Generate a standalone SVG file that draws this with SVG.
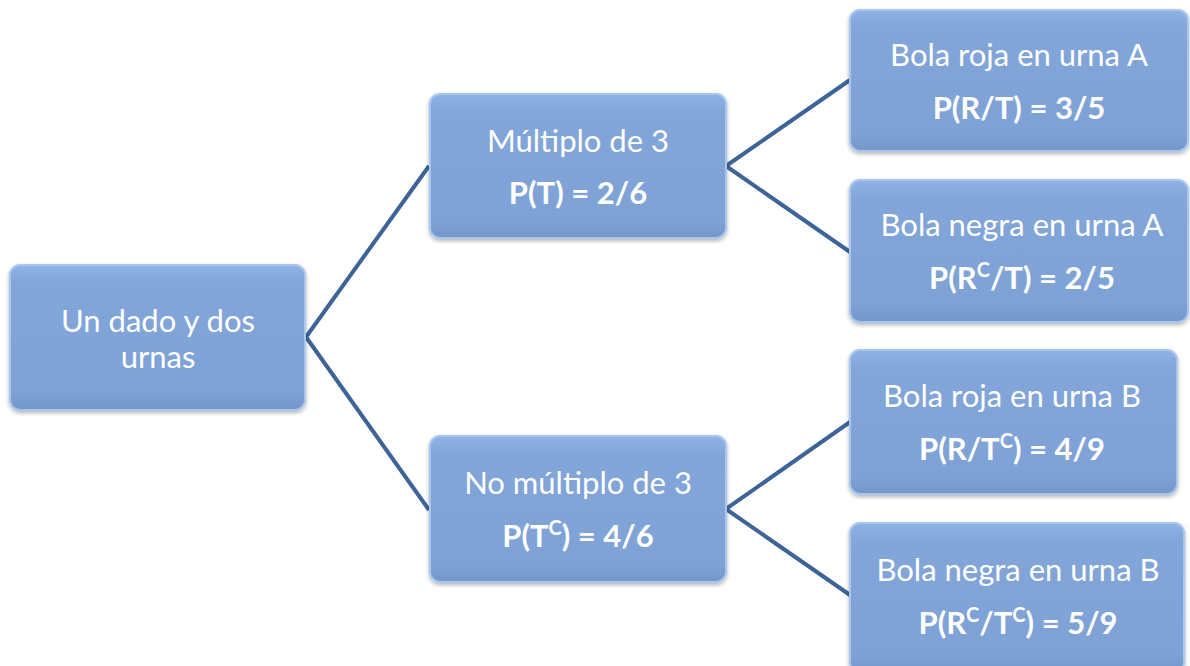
<svg xmlns="http://www.w3.org/2000/svg" width="1190" height="666" viewBox="0 0 1190 666">
<style>
.box{fill:url(#g);stroke:#a9c6ee;stroke-width:2}
.t{font-family:Lato,"Open Sans","Liberation Sans",sans-serif;font-size:31px;fill:#fff;text-anchor:middle}
.b{font-weight:bold}
.c{stroke:#3d6398;stroke-width:4;fill:none}
</style>
<defs>
<linearGradient id="g" x1="0" y1="0" x2="0" y2="1">
<stop offset="0" stop-color="#8fb3e6"/>
<stop offset="0.12" stop-color="#82a6d9"/>
<stop offset="0.88" stop-color="#7ea2d5"/>
<stop offset="1" stop-color="#7396c8"/>
</linearGradient>
<filter id="s" x="-5%" y="-5%" width="110%" height="115%">
<feGaussianBlur in="SourceAlpha" stdDeviation="2"/>
<feOffset dx="0" dy="2"/>
<feComponentTransfer><feFuncA type="linear" slope="0.3"/></feComponentTransfer>
<feMerge><feMergeNode/><feMergeNode in="SourceGraphic"/></feMerge>
</filter>
</defs>
<g id="connectors">
<line class="c" x1="306" y1="337" x2="429" y2="166"/>
<line class="c" x1="306" y1="337" x2="429" y2="510"/>
<line class="c" x1="726" y1="166" x2="850" y2="80"/>
<line class="c" x1="726" y1="166" x2="850" y2="252"/>
<line class="c" x1="726" y1="509" x2="850" y2="422"/>
<line class="c" x1="726" y1="509" x2="850" y2="595"/>
</g>
<g id="root">
<rect class="box" filter="url(#s)" x="10" y="265" width="295" height="145" rx="10"/>
<text class="t" x="158" y="332">Un dado y dos</text>
<text class="t" x="158" y="368">urnas</text>
</g>
<g id="mult3">
<rect class="box" filter="url(#s)" x="430" y="94" width="296" height="144" rx="10"/>
<text class="t" x="578" y="152">Múltiplo de 3</text>
<text class="t b" x="578" y="204">P(T) = 2/6</text>
</g>
<g id="nomult3">
<rect class="box" filter="url(#s)" x="430" y="436" width="296" height="146" rx="10"/>
<text class="t" x="578" y="494">No múltiplo de 3</text>
<text class="t b" x="578" y="547">P(T<tspan font-size="20" dy="-12">C</tspan><tspan dy="12">) = 4/6</tspan></text>
</g>
<g id="rojaA">
<rect class="box" filter="url(#s)" x="850" y="10" width="338" height="141" rx="10"/>
<text class="t" x="1019" y="66">Bola roja en urna A</text>
<text class="t b" x="1019" y="119">P(R/T) = 3/5</text>
</g>
<g id="negraA">
<rect class="box" filter="url(#s)" x="850" y="180" width="338" height="142" rx="10"/>
<text class="t" x="1022" y="236">Bola negra en urna A</text>
<text class="t b" x="1022" y="289">P(R<tspan font-size="20" dy="-12">C</tspan><tspan dy="12">/T) = 2/5</tspan></text>
</g>
<g id="rojaB">
<rect class="box" filter="url(#s)" x="850" y="350" width="327" height="144" rx="10"/>
<text class="t" x="1012" y="407">Bola roja en urna B</text>
<text class="t b" x="1012" y="460">P(R/T<tspan font-size="20" dy="-12">C</tspan><tspan dy="12">) = 4/9</tspan></text>
</g>
<g id="negraB">
<rect class="box" filter="url(#s)" x="850" y="523" width="334" height="150" rx="10"/>
<text class="t" x="1018" y="581">Bola negra en urna B</text>
<text class="t b" x="1018" y="634">P(R<tspan font-size="20" dy="-12">C</tspan><tspan dy="12">/T</tspan><tspan font-size="20" dy="-12">C</tspan><tspan dy="12">) = 5/9</tspan></text>
</g>
</svg>
